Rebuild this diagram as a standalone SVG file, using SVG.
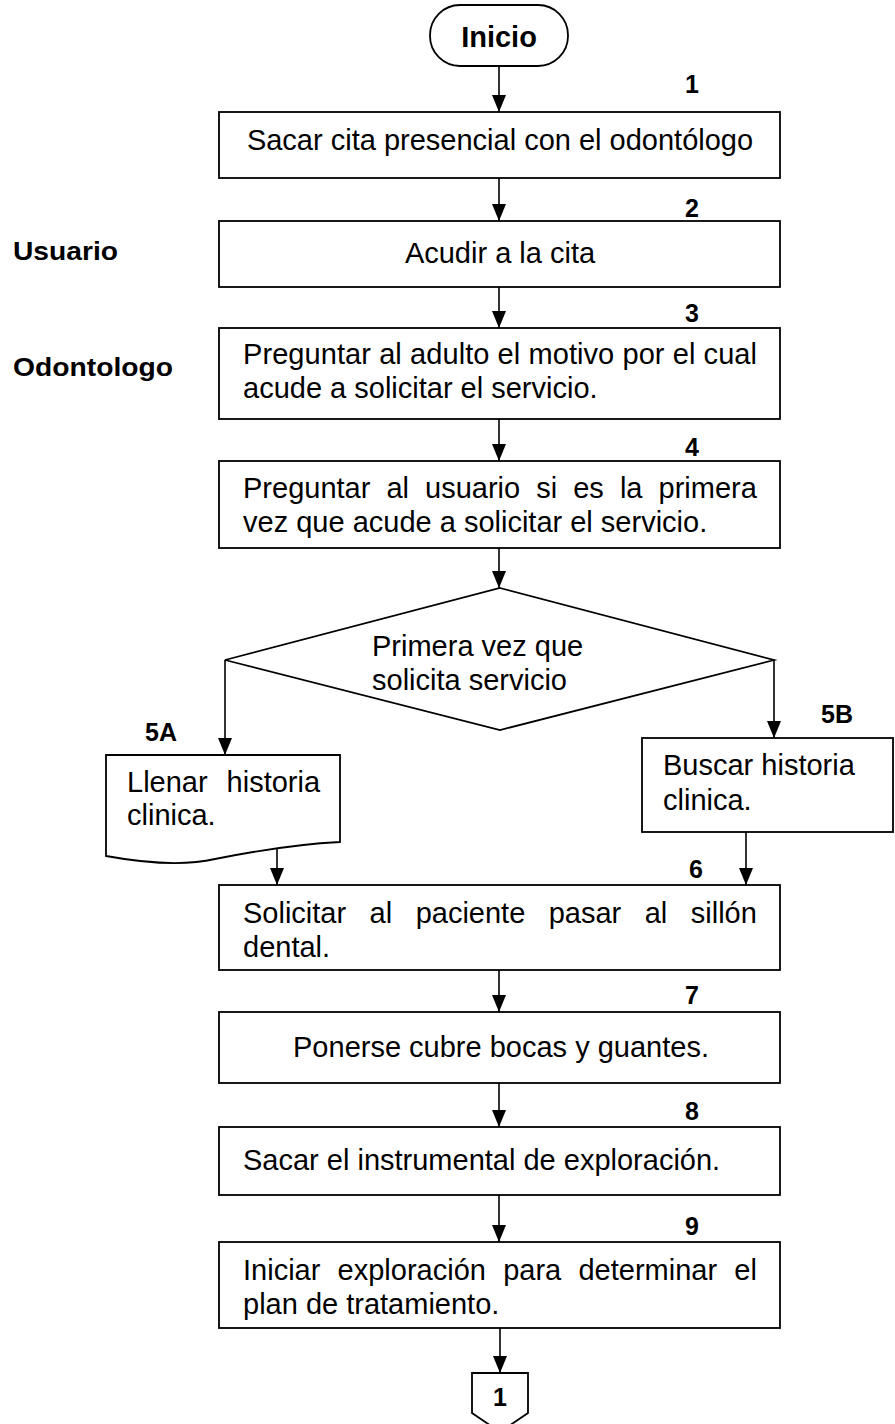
<svg xmlns="http://www.w3.org/2000/svg" width="895" height="1424" viewBox="0 0 895 1424">
<defs>
<style>
.shape{fill:#fff;stroke:#000;stroke-width:1.8}
.t{font-family:"Liberation Sans",Arial,sans-serif;font-size:29px;fill:#000}
.c{text-anchor:middle}
.lbl{font-family:"Liberation Sans",Arial,sans-serif;font-size:25px;font-weight:bold;fill:#000}
.lane{font-family:"Liberation Sans",Arial,sans-serif;font-size:26px;font-weight:bold;fill:#000}
.edge{fill:none;stroke:#000;stroke-width:1.6;marker-end:url(#ah)}
</style>
<marker id="ah" markerUnits="userSpaceOnUse" markerWidth="18" markerHeight="14" refX="17" refY="7" orient="auto">
<path d="M0,0 L17,7 L0,14 Z" fill="#000"/>
</marker>
</defs>
<rect width="895" height="1424" fill="#fff"/>

<text class="lane" x="13" y="260" textLength="105" lengthAdjust="spacingAndGlyphs">Usuario</text>
<text class="lane" x="13" y="376" textLength="160" lengthAdjust="spacingAndGlyphs">Odontologo</text>

<g id="connectors">
<line class="edge" x1="499" y1="66" x2="499" y2="112"/>
<line class="edge" x1="499" y1="178" x2="499" y2="221"/>
<line class="edge" x1="499" y1="287" x2="499" y2="328"/>
<line class="edge" x1="499" y1="419" x2="499" y2="461"/>
<line class="edge" x1="499" y1="548" x2="499" y2="588"/>
<line class="edge" x1="225" y1="660" x2="225" y2="755"/>
<line class="edge" x1="774" y1="660" x2="774" y2="738"/>
<line class="edge" x1="277" y1="847" x2="277" y2="885"/>
<line class="edge" x1="746" y1="832" x2="746" y2="885"/>
<line class="edge" x1="499" y1="970" x2="499" y2="1012"/>
<line class="edge" x1="499" y1="1083" x2="499" y2="1127"/>
<line class="edge" x1="499" y1="1195" x2="499" y2="1242"/>
<line class="edge" x1="500" y1="1328" x2="500" y2="1373"/>
</g>

<g id="inicio">
<rect class="shape" x="430" y="5" width="138" height="61" rx="30" ry="30"/>
<text class="t c" x="499" y="47" font-weight="bold" font-size="28">Inicio</text>
</g>

<g id="step1">
<rect class="shape" x="219" y="112" width="561" height="66"/>
<text class="lbl" x="685" y="93">1</text>
<text class="t c" x="500" y="150">Sacar cita presencial con el odontólogo</text>
</g>

<g id="step2">
<rect class="shape" x="219" y="221" width="561" height="66"/>
<text class="lbl" x="685" y="217">2</text>
<text class="t c" x="500" y="263">Acudir a la cita</text>
</g>

<g id="step3">
<rect class="shape" x="219" y="328" width="561" height="91"/>
<text class="lbl" x="685" y="322">3</text>
<text class="t" x="243" y="364" textLength="514" lengthAdjust="spacing">Preguntar al adulto el motivo por el cual</text>
<text class="t" x="243" y="398">acude a solicitar el servicio.</text>
</g>

<g id="step4">
<rect class="shape" x="219" y="461" width="561" height="87"/>
<text class="lbl" x="685" y="456">4</text>
<text class="t" x="243" y="498" style="word-spacing:8px">Preguntar al usuario si es la primera</text>
<text class="t" x="243" y="532">vez que acude a solicitar el servicio.</text>
</g>

<g id="decision">
<polygon class="shape" points="500,588 774,660 500,730 225,660"/>
<text class="t" x="372" y="656">Primera vez que</text>
<text class="t" x="372" y="690">solicita servicio</text>
</g>

<g id="step5a">
<path class="shape" d="M106,755 H340 V842 C300,844 260,850 215,859 C185,866 150,864 106,856 Z"/>
<text class="lbl" x="145" y="741">5A</text>
<text class="t" x="127" y="792" style="word-spacing:10.9px">Llenar historia</text>
<text class="t" x="127" y="825">clinica.</text>
</g>

<g id="step5b">
<rect class="shape" x="642" y="738" width="251" height="94"/>
<text class="lbl" x="821" y="723">5B</text>
<text class="t" x="663" y="775">Buscar historia</text>
<text class="t" x="663" y="810">clinica.</text>
</g>

<g id="step6">
<rect class="shape" x="219" y="885" width="561" height="85"/>
<text class="lbl" x="689" y="878">6</text>
<text class="t" x="243" y="923" style="word-spacing:15.4px">Solicitar al paciente pasar al sillón</text>
<text class="t" x="243" y="957">dental.</text>
</g>

<g id="step7">
<rect class="shape" x="219" y="1012" width="561" height="71"/>
<text class="lbl" x="685" y="1004">7</text>
<text class="t c" x="501" y="1057">Ponerse cubre bocas y guantes.</text>
</g>

<g id="step8">
<rect class="shape" x="219" y="1127" width="561" height="68"/>
<text class="lbl" x="685" y="1120">8</text>
<text class="t" x="243" y="1170">Sacar el instrumental de exploración.</text>
</g>

<g id="step9">
<rect class="shape" x="219" y="1242" width="561" height="86"/>
<text class="lbl" x="685" y="1235">9</text>
<text class="t" x="243" y="1280" style="word-spacing:9.2px">Iniciar exploración para determinar el</text>
<text class="t" x="243" y="1314">plan de tratamiento.</text>
</g>

<g id="offpage">
<polygon class="shape" points="472,1373 528,1373 528,1413 500,1432 472,1413"/>
<text class="lbl" x="500" y="1406" text-anchor="middle">1</text>
</g>
</svg>
